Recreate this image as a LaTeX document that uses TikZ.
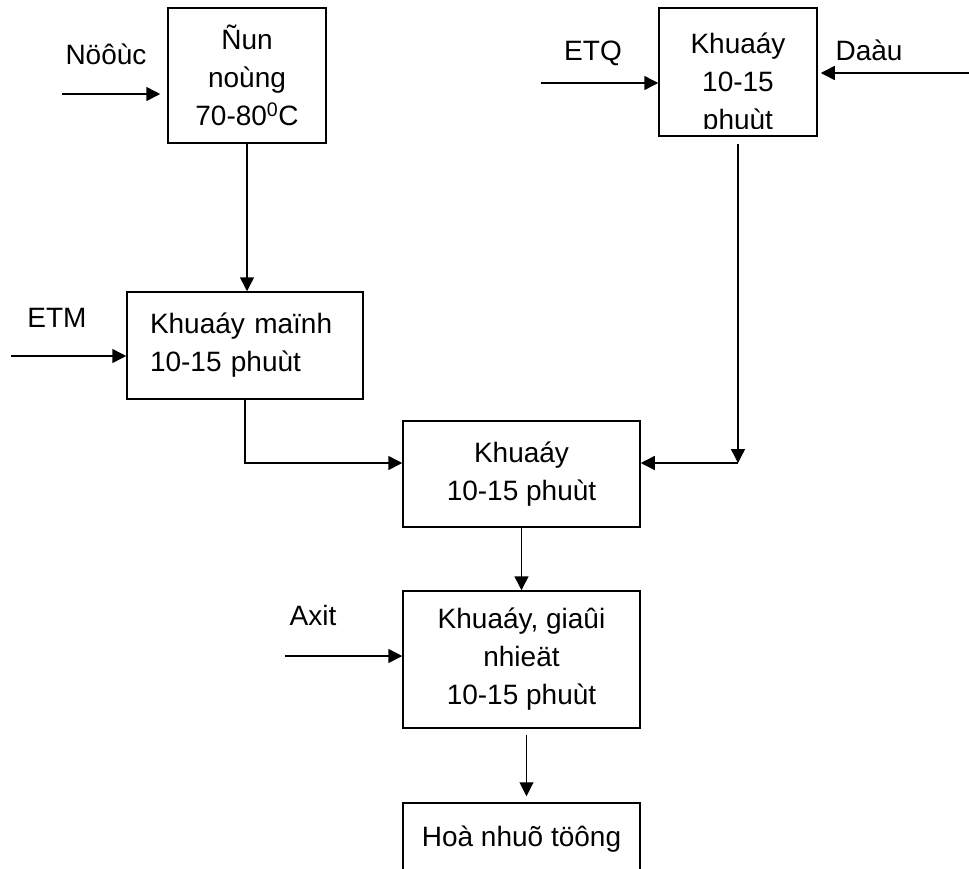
\documentclass[tikz,border=0pt]{standalone}
\usepackage{fontspec}
\setmainfont{Liberation Sans}
\usetikzlibrary{positioning, arrows.meta, calc}
\tikzset{
  box/.style={draw, rectangle, line width=1.5pt, align=center, font=\fontsize{28}{38}\selectfont},
  lbl/.style={font=\fontsize{28}{38}\selectfont},
  flow/.style={line width=1.5pt, -{Triangle[length=14pt,width=14pt]}}
}

\begin{document}
\begin{tikzpicture}[x=1pt, y=-1pt]
  \useasboundingbox (0,0) rectangle (969,868);

  \node[box, minimum width=158pt, minimum height=135pt] (heat) at (247,75.5) {Ñun\\noùng\\70-80\textsuperscript{0}C};
  \node[box, minimum width=236pt, minimum height=107pt, text width=190pt, inner xsep=23pt, align=left] (strong) at (245,345.5) {Khuaáy maïnh\\10-15 phuùt};
  \node[box, minimum width=158pt, minimum height=128pt] (etqmix) at (738,72) {};
  \begin{scope}
    \clip (etqmix.north west) rectangle ([yshift=8pt]etqmix.south east);
    \node[lbl, align=center] (etqtxt) at (738,84) {Khuaáy\\10-15\\phuùt};
  \end{scope}
  \node[box, minimum width=237pt, minimum height=106pt] (mix) at (521.5,474) {Khuaáy\\10-15 phuùt};
  \node[box, minimum width=237pt, minimum height=137pt] (cool) at (521.5,659.5) {Khuaáy, giaûi\\nhieät\\10-15 phuùt};
  \node[box, minimum width=237pt, minimum height=72pt] (final) at (521.5,839) {Hoà nhuõ töông};

  \node[lbl] (water) at (106,54) {Nöôùc};
  \node[lbl] (etm) at (57,318) {ETM};
  \node[lbl] (etq) at (593,53) {ETQ};
  \node[lbl] (oil) at (869,50) {Daàu};
  \node[lbl] (acid) at (313,615) {Axit};

  \coordinate (waterin) at (62,94);
  \coordinate (etmin) at (11,356);
  \coordinate (etqin) at (541,83);
  \coordinate (oilin) at (969,73);
  \coordinate (acidin) at (285,656);
  \coordinate (join) at (738,463);

  \draw[flow, shorten >=7pt] (waterin) -- (heat.west |- waterin);
  \draw[flow] (etmin) -- (strong.west |- etmin);
  \draw[flow] (etqin) -- (etqmix.west |- etqin);
  \draw[flow, shorten >=3pt] (oilin) -- (etqmix.east |- oilin);
  \draw[flow] (acidin) -- (cool.west |- acidin);
  \draw[flow] (heat.south) -- (heat.south |- strong.north);
  \draw[flow] (strong.south) |- (mix.west |- join);
  \draw[flow, shorten <=7pt] (etqmix.south) -- (join);
  \draw[flow] (join) -- (mix.east |- join);
  \draw[flow] (mix.south) -- (cool.north);
  \draw[flow, line width=1pt, shorten <=6pt, shorten >=6pt] ([xshift=5pt]cool.south) -- ([xshift=5pt]final.north);
\end{tikzpicture}
\end{document}
